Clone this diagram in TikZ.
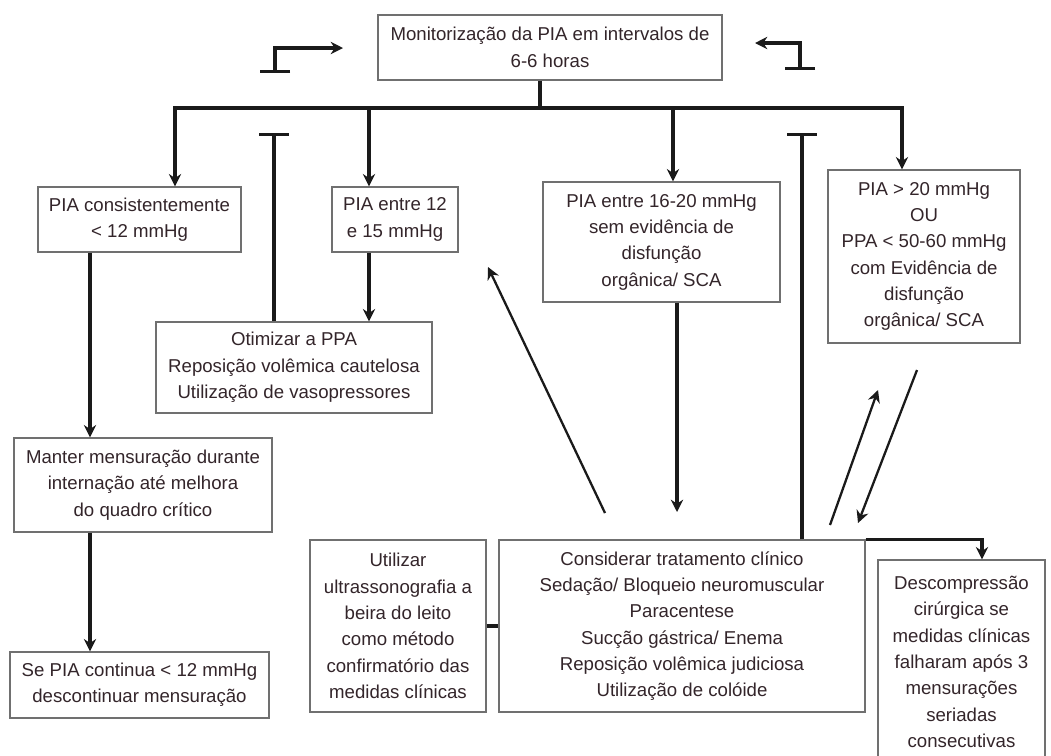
\documentclass[tikz,border=0pt]{standalone}
\usepackage{fontspec}
\setmainfont{Liberation Sans}
\usetikzlibrary{arrows.meta}
\definecolor{txt}{HTML}{33252A}
\definecolor{bord}{HTML}{707070}
\definecolor{ln}{HTML}{1A1A1A}
\begin{document}
\begin{tikzpicture}[x=0.02cm,y=-0.02cm,
  box/.style={draw=bord, line width=0.8pt, align=center, inner sep=0pt, text=txt, font=\fontsize{10.6}{15}\selectfont},
  con/.style={draw=ln, line width=1.8pt},
  thin con/.style={draw=ln, line width=1.3pt},
  arr/.style={con, -{Stealth[length=7pt,width=7pt]}},
  tarr/.style={thin con, -{Stealth[length=7pt,width=7pt]}},
  inh/.style={con, -{Bar[width=0.6cm]}},
  ]
\useasboundingbox[fill=white] (0,0) rectangle (1051,755);

% nodes
\node[box, minimum width=6.88cm, minimum height=1.30cm] (top) at (550,47.5) {Monitorização da PIA em intervalos de\\6-6 horas};
\node[box, minimum width=4.06cm, minimum height=1.30cm] (c12) at (139.5,219.5) {PIA consistentemente\\< 12 mmHg};
\node[box, minimum width=2.52cm, minimum height=1.30cm] (e12) at (395,219.5) {PIA entre 12\\e 15 mmHg};
\node[box, minimum width=4.74cm, minimum height=2.40cm] (e16) at (661.5,242) {PIA entre 16-20 mmHg\\sem evidência de\\disfunção\\orgânica/ SCA};
\node[box, minimum width=3.84cm, minimum height=3.46cm] (g20) at (924,256.5) {PIA > 20 mmHg\\OU\\PPA < 50-60 mmHg\\com Evidência de\\disfunção\\orgânica/ SCA};
\node[box, minimum width=5.52cm, minimum height=1.82cm] (otim) at (294,367.5) {Otimizar a PPA\\Reposição volêmica cautelosa\\Utilização de vasopressores};
\node[box, minimum width=5.16cm, minimum height=1.88cm] (manter) at (143,485) {Manter mensuração durante\\internação até melhora\\do quadro crítico};
\node[box, minimum width=5.18cm, minimum height=1.32cm] (sepia) at (139.5,685) {Se PIA continua < 12 mmHg\\descontinuar mensuração};
\node[box, minimum width=3.52cm, minimum height=3.44cm] (util) at (398,626) {Utilizar\\ultrassonografia a\\beira do leito\\como método\\confirmatório das\\medidas clínicas};
\node[box, minimum width=7.32cm, minimum height=3.44cm] (cons) at (682,626) {Considerar tratamento clínico\\Sedação/ Bloqueio neuromuscular\\Paracentese\\Sucção gástrica/ Enema\\Reposição volêmica judiciosa\\Utilização de colóide};
\node[box, minimum width=3.34cm, minimum height=4.08cm] (desc) at (961.5,662) {Descompressão\\cirúrgica se\\medidas clínicas\\falharam após 3\\mensurações\\seriadas\\consecutivas};

% helper coordinates
\coordinate (J) at (540,108);
\coordinate (x1) at (175,0);
\coordinate (x2) at (369,0);
\coordinate (x3) at (673,0);
\coordinate (x4) at (902,0);
\coordinate (x5) at (90,0);
\coordinate (x6) at (274,0);
\coordinate (x7) at (982,0);
\coordinate (x8) at (677,0);
\coordinate (x9) at (802,0);
\coordinate (i1) at (274,133);
\coordinate (i2) at (802,133);
\coordinate (e16end) at (677,512);
\coordinate (d1s) at (605,513);
\coordinate (d1e) at (488,267);
\coordinate (d2s) at (830,525);
\coordinate (d2e) at (878,390);
\coordinate (d3s) at (917,370);
\coordinate (d3e) at (858,523);
\coordinate (L1) at (275,73);
\coordinate (L2) at (275,48);
\coordinate (L3) at (343,48);
\coordinate (R1) at (800,70);
\coordinate (R2) at (800,43);
\coordinate (R3) at (755,43);

% connectors
\draw[con] (top.south -| J) -- (J);
\draw[arr] (J) -| (c12.north -| x1);
\draw[arr] (J) -| (e12.north -| x2);
\draw[arr] (J) -| (e16.north -| x3);
\draw[arr] (J) -| (g20.north -| x4);
\draw[arr] (c12.south -| x5) -- (manter.north -| x5);
\draw[arr] (manter.south -| x5) -- (sepia.north -| x5);
\draw[arr] (e12.south -| x2) -- (otim.north -| x2);
\draw[inh] (otim.north -| x6) -- (i1);
\draw[arr] (e16.south -| x8) -- (e16end);
\draw[tarr] (d1s) -- (d1e);
\draw[inh] (cons.north -| x9) -- (i2);
\draw[tarr] (d2s) -- (d2e);
\draw[tarr] (d3s) -- (d3e);
\draw[arr] (cons.north east) -| (desc.north -| x7);
\draw[con] (util.east) -- (cons.west);

% feedback symbols at the top
\draw[con, {Bar[width=0.6cm]}-{Stealth[length=7pt,width=7pt]}] (L1) -- (L2) -- (L3);
\draw[con, {Bar[width=0.6cm]}-{Stealth[length=7pt,width=7pt]}] (R1) -- (R2) -- (R3);
\end{tikzpicture}
\end{document}
